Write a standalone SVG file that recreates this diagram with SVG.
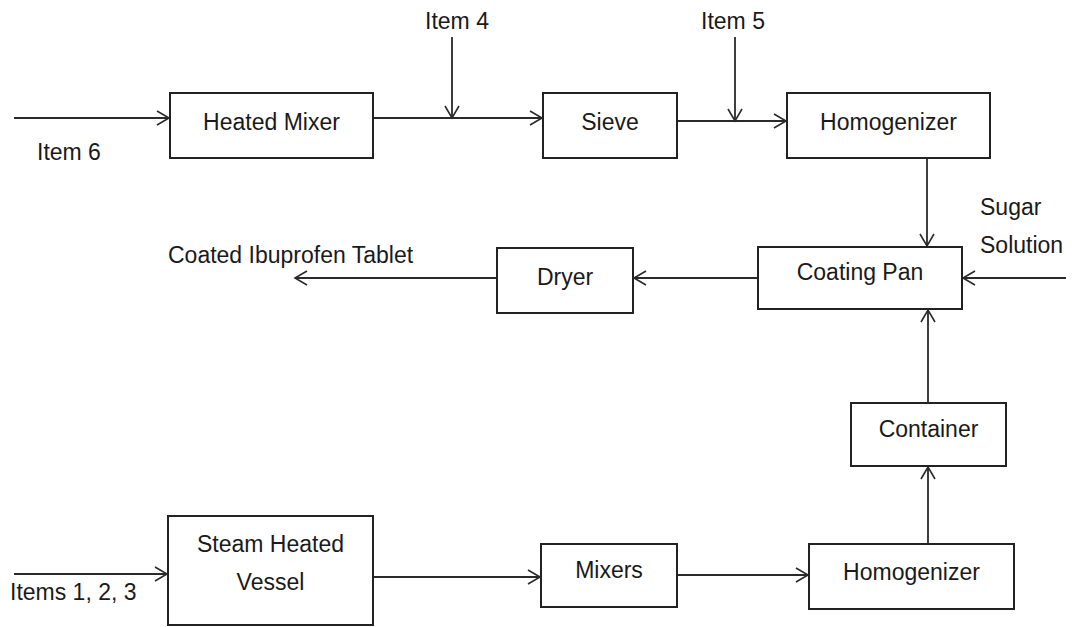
<svg xmlns="http://www.w3.org/2000/svg" width="1072" height="627" viewBox="0 0 1072 627">
<defs>
<marker id="ah" markerUnits="userSpaceOnUse" markerWidth="16" markerHeight="18" refX="13" refY="8" orient="auto">
<path d="M1,1 L13,8 L1,15" fill="none" stroke="#2a2a2a" stroke-width="1.6"/>
</marker>
</defs>
<style>
.box{fill:#fff;stroke:#222;stroke-width:2}
.t{font-family:"Liberation Sans",Arial,sans-serif;font-size:23px;fill:#1a1a1a}
.c{text-anchor:middle}
.ln{stroke:#2a2a2a;stroke-width:1.8;fill:none;marker-end:url(#ah)}
</style>
<rect width="1072" height="627" fill="#fff"/>
<g id="connectors">
<line class="ln" x1="14" y1="118" x2="169" y2="118"/>
<line class="ln" x1="373" y1="118" x2="542" y2="118"/>
<line class="ln" x1="452" y1="37" x2="452" y2="118"/>
<line class="ln" x1="677" y1="121" x2="786" y2="121"/>
<line class="ln" x1="735" y1="37" x2="735" y2="121"/>
<line class="ln" x1="927" y1="158" x2="927" y2="246"/>
<line class="ln" x1="1066" y1="278" x2="963" y2="278"/>
<line class="ln" x1="758" y1="278" x2="634" y2="278"/>
<line class="ln" x1="497" y1="278" x2="295" y2="278"/>
<line class="ln" x1="928" y1="403" x2="928" y2="310"/>
<line class="ln" x1="928" y1="544" x2="928" y2="467"/>
<line class="ln" x1="677" y1="575" x2="808" y2="575"/>
<line class="ln" x1="373" y1="577" x2="540" y2="577"/>
<line class="ln" x1="14" y1="574" x2="167" y2="574"/>
</g>
<g id="heated-mixer"><rect class="box" x="170" y="93" width="203" height="65"/><text class="t c" x="271.5" y="130">Heated Mixer</text></g>
<g id="sieve"><rect class="box" x="543" y="93" width="134" height="65"/><text class="t c" x="610" y="130">Sieve</text></g>
<g id="homogenizer-top"><rect class="box" x="787" y="93" width="203" height="65"/><text class="t c" x="888.5" y="130">Homogenizer</text></g>
<g id="coating-pan"><rect class="box" x="758" y="247" width="204" height="62"/><text class="t c" x="860" y="280">Coating Pan</text></g>
<g id="dryer"><rect class="box" x="497" y="248" width="136" height="65"/><text class="t c" x="565" y="285">Dryer</text></g>
<g id="container"><rect class="box" x="851" y="403" width="155" height="63"/><text class="t c" x="928.5" y="437">Container</text></g>
<g id="mixers"><rect class="box" x="541" y="544" width="136" height="63"/><text class="t c" x="609" y="578">Mixers</text></g>
<g id="homogenizer-bottom"><rect class="box" x="809" y="544" width="205" height="65"/><text class="t c" x="911.5" y="580">Homogenizer</text></g>
<g id="steam-heated-vessel"><rect class="box" x="168" y="516" width="205" height="109"/><text class="t c" x="270.5" y="552">Steam Heated</text><text class="t c" x="270.5" y="590">Vessel</text></g>
<g id="labels">
<text class="t c" x="457" y="29">Item 4</text>
<text class="t c" x="733" y="29">Item 5</text>
<text class="t" x="37" y="160">Item 6</text>
<text class="t" x="980" y="215">Sugar</text>
<text class="t" x="980" y="253">Solution</text>
<text class="t" x="168" y="263">Coated Ibuprofen Tablet</text>
<text class="t" x="10" y="600">Items 1, 2, 3</text>
</g>
</svg>
